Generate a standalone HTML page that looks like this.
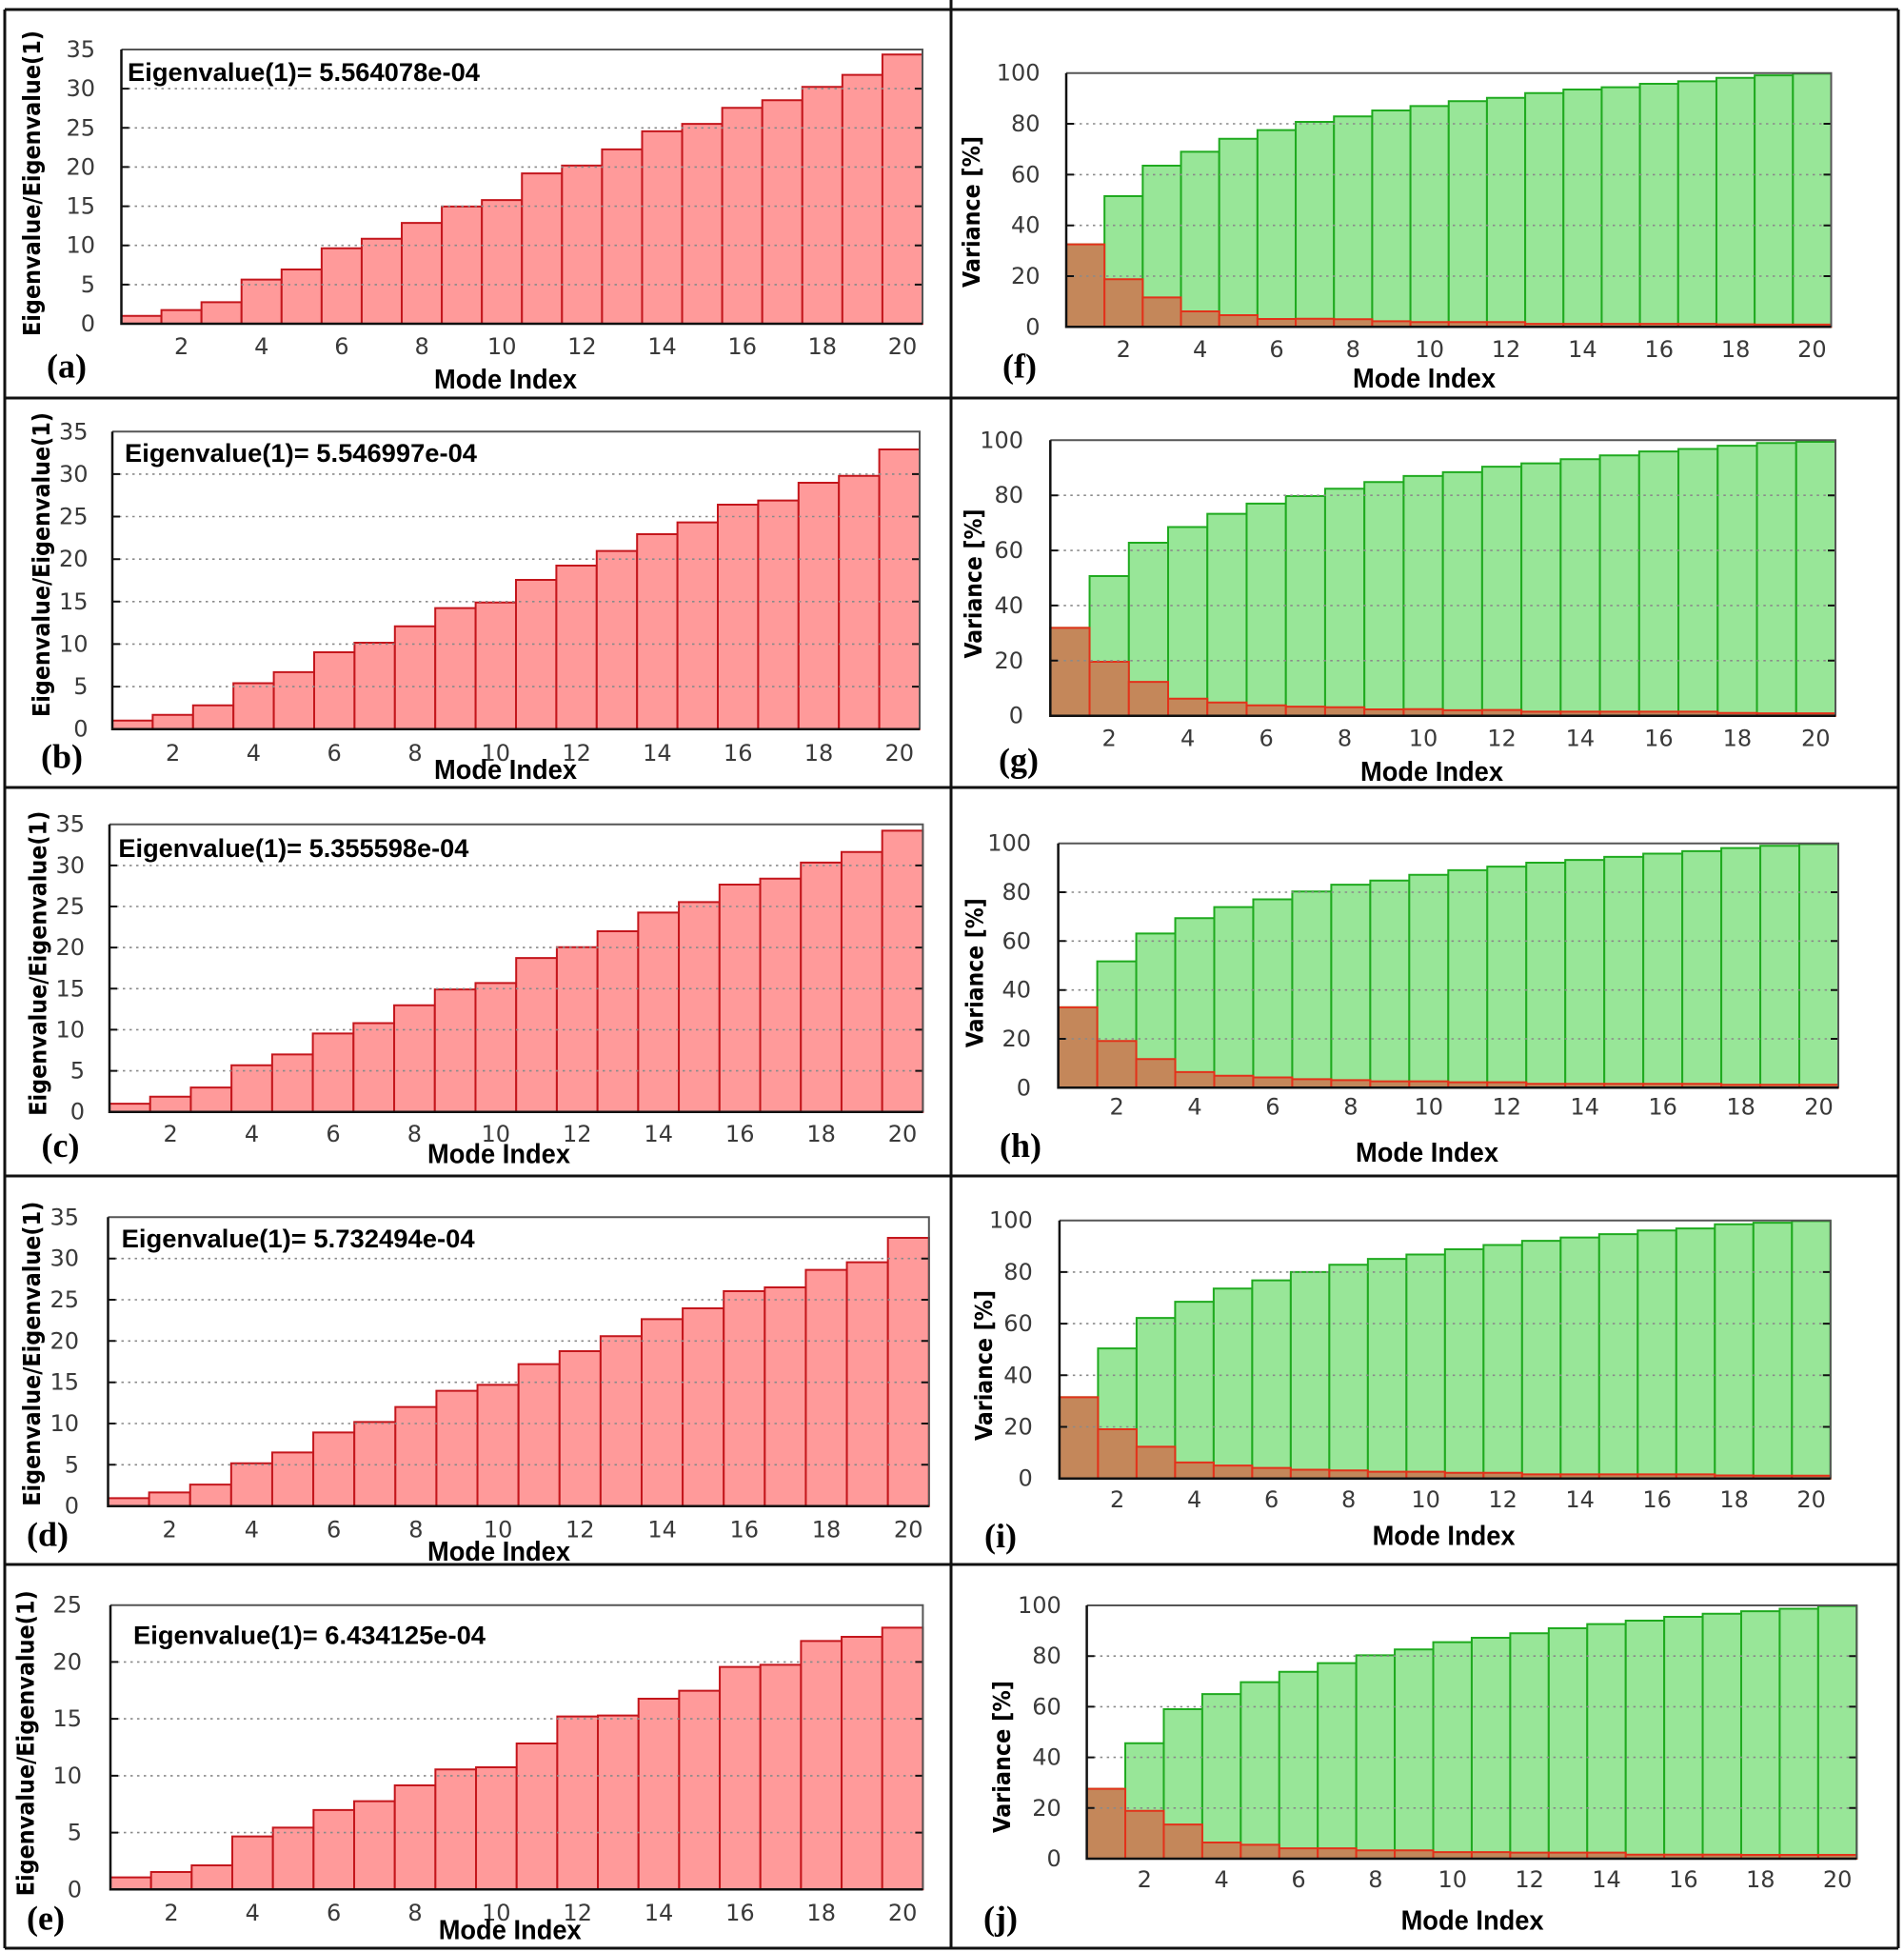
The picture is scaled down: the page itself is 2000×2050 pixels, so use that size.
<!DOCTYPE html>
<html><head><meta charset="utf-8">
<style>
html,body{margin:0;padding:0;background:#fff;}
svg{display:block;}
.rb rect{fill:#ff9a9a;stroke:#c4161c;stroke-width:2;vector-effect:non-scaling-stroke;}
.gb rect{fill:#98e698;stroke:#1faa1f;stroke-width:2;vector-effect:non-scaling-stroke;}
.bb rect{fill:#c4875a;stroke:#e2321a;stroke-width:2;vector-effect:non-scaling-stroke;}
.grid{stroke:#8a8a8a;stroke-width:1.6;stroke-dasharray:2.5 4.5;fill:none;}
.tm{stroke:#111;stroke-width:2;fill:none;}
.ft{stroke:#555;stroke-width:2;fill:none;}
.fb{stroke:#111;stroke-width:2.5;fill:none;}
.tk{font-family:"DejaVu Sans","Liberation Sans",sans-serif;font-size:24px;fill:#3a3a3a;}
.ml{font-family:"Liberation Sans",sans-serif;font-weight:bold;font-size:29px;fill:#000;}
.an{font-family:"Liberation Sans",sans-serif;font-weight:bold;font-size:27px;fill:#000;}
.yl{font-family:"DejaVu Sans","Liberation Sans",sans-serif;font-weight:bold;font-size:25px;fill:#000;}
.lt{font-family:"Liberation Serif",serif;font-weight:bold;font-size:36px;fill:#000;}
.fr{stroke:#111;stroke-width:3;fill:none;}
</style></head>
<body>
<svg width="2000" height="2050" viewBox="0 0 2000 2050" xmlns="http://www.w3.org/2000/svg">
<rect x="0" y="0" width="2000" height="2050" fill="#fff"/>

<!-- ================= (a) ================= -->
<g class="rb" transform="translate(127.5,340) scale(42.075,-8.2286)">
<rect x="0" y="0" width="1" height="1.0"/><rect x="1" y="0" width="1" height="1.74"/><rect x="2" y="0" width="1" height="2.75"/><rect x="3" y="0" width="1" height="5.63"/><rect x="4" y="0" width="1" height="6.92"/><rect x="5" y="0" width="1" height="9.63"/><rect x="6" y="0" width="1" height="10.85"/><rect x="7" y="0" width="1" height="12.87"/><rect x="8" y="0" width="1" height="14.97"/><rect x="9" y="0" width="1" height="15.78"/><rect x="10" y="0" width="1" height="19.18"/><rect x="11" y="0" width="1" height="20.19"/><rect x="12" y="0" width="1" height="22.26"/><rect x="13" y="0" width="1" height="24.56"/><rect x="14" y="0" width="1" height="25.5"/><rect x="15" y="0" width="1" height="27.56"/><rect x="16" y="0" width="1" height="28.53"/><rect x="17" y="0" width="1" height="30.23"/><rect x="18" y="0" width="1" height="31.77"/><rect x="19" y="0" width="1" height="34.36"/>
</g>
<path class="grid" d="M127.5 298.9H969M127.5 257.7H969M127.5 216.6H969M127.5 175.4H969M127.5 134.3H969M127.5 93.1H969"/>
<path class="tm" d="M127.5 298.9h8M127.5 257.7h8M127.5 216.6h8M127.5 175.4h8M127.5 134.3h8M127.5 93.1h8M969 298.9h-8M969 257.7h-8M969 216.6h-8M969 175.4h-8M969 134.3h-8M969 93.1h-8"/>
<path class="ft" d="M127.5 52H969V340"/>
<path class="fb" d="M127.5 52V340H969"/>
<g class="tk" text-anchor="end">
<text x="100" y="348">0</text><text x="100" y="306.9">5</text><text x="100" y="265.7">10</text><text x="100" y="224.6">15</text><text x="100" y="183.4">20</text><text x="100" y="142.3">25</text><text x="100" y="101.1">30</text><text x="100" y="60">35</text>
</g>
<g class="tk" text-anchor="middle">
<text x="190.6" y="372">2</text><text x="274.8" y="372">4</text><text x="358.9" y="372">6</text><text x="443.1" y="372">8</text><text x="527.2" y="372">10</text><text x="611.4" y="372">12</text><text x="695.5" y="372">14</text><text x="779.7" y="372">16</text><text x="863.8" y="372">18</text><text x="948" y="372">20</text>
</g>
<text class="ml" x="531" y="408" text-anchor="middle" textLength="150" lengthAdjust="spacingAndGlyphs">Mode Index</text>
<text class="lt" x="70" y="396.5" text-anchor="middle">(a)</text>
<text class="an" x="134" y="85" textLength="370" lengthAdjust="spacingAndGlyphs">Eigenvalue(1)= 5.564078e-04</text>
<text class="yl" transform="translate(42,192.5) rotate(-90)" text-anchor="middle" textLength="321" lengthAdjust="spacingAndGlyphs">Eigenvalue/Eigenvalue(1)</text>

<!-- ================= (b) ================= -->
<g class="rb" transform="translate(118,765.7) scale(42.4,-8.9257)">
<rect x="0" y="0" width="1" height="1.0"/><rect x="1" y="0" width="1" height="1.68"/><rect x="2" y="0" width="1" height="2.8"/><rect x="3" y="0" width="1" height="5.4"/><rect x="4" y="0" width="1" height="6.7"/><rect x="5" y="0" width="1" height="9.04"/><rect x="6" y="0" width="1" height="10.16"/><rect x="7" y="0" width="1" height="12.1"/><rect x="8" y="0" width="1" height="14.23"/><rect x="9" y="0" width="1" height="14.9"/><rect x="10" y="0" width="1" height="17.56"/><rect x="11" y="0" width="1" height="19.24"/><rect x="12" y="0" width="1" height="20.96"/><rect x="13" y="0" width="1" height="22.94"/><rect x="14" y="0" width="1" height="24.32"/><rect x="15" y="0" width="1" height="26.41"/><rect x="16" y="0" width="1" height="26.9"/><rect x="17" y="0" width="1" height="28.99"/><rect x="18" y="0" width="1" height="29.8"/><rect x="19" y="0" width="1" height="32.9"/>
</g>
<path class="grid" d="M118 721.1H966M118 676.4H966M118 631.8H966M118 587.2H966M118 542.5H966M118 497.9H966"/>
<path class="tm" d="M118 721.1h8M118 676.4h8M118 631.8h8M118 587.2h8M118 542.5h8M118 497.9h8M966 721.1h-8M966 676.4h-8M966 631.8h-8M966 587.2h-8M966 542.5h-8M966 497.9h-8"/>
<path class="ft" d="M118 453.3H966V765.7"/>
<path class="fb" d="M118 453.3V765.7H966"/>
<g class="tk" text-anchor="end">
<text x="92.5" y="773.7">0</text><text x="92.5" y="729.1">5</text><text x="92.5" y="684.4">10</text><text x="92.5" y="639.8">15</text><text x="92.5" y="595.2">20</text><text x="92.5" y="550.5">25</text><text x="92.5" y="505.9">30</text><text x="92.5" y="461.3">35</text>
</g>
<g class="tk" text-anchor="middle">
<text x="181.6" y="799">2</text><text x="266.4" y="799">4</text><text x="351.2" y="799">6</text><text x="436" y="799">8</text><text x="520.8" y="799">10</text><text x="605.6" y="799">12</text><text x="690.4" y="799">14</text><text x="775.2" y="799">16</text><text x="860" y="799">18</text><text x="944.8" y="799">20</text>
</g>
<text class="ml" x="531" y="818" text-anchor="middle" textLength="150" lengthAdjust="spacingAndGlyphs">Mode Index</text>
<text class="lt" x="65" y="806.5" text-anchor="middle">(b)</text>
<text class="an" x="131" y="485" textLength="370" lengthAdjust="spacingAndGlyphs">Eigenvalue(1)= 5.546997e-04</text>
<text class="yl" transform="translate(52,593) rotate(-90)" text-anchor="middle" textLength="320" lengthAdjust="spacingAndGlyphs">Eigenvalue/Eigenvalue(1)</text>

<!-- ================= (c) ================= -->
<g class="rb" transform="translate(115,1167.7) scale(42.72,-8.6286)">
<rect x="0" y="0" width="1" height="1.0"/><rect x="1" y="0" width="1" height="1.85"/><rect x="2" y="0" width="1" height="2.97"/><rect x="3" y="0" width="1" height="5.68"/><rect x="4" y="0" width="1" height="6.99"/><rect x="5" y="0" width="1" height="9.54"/><rect x="6" y="0" width="1" height="10.8"/><rect x="7" y="0" width="1" height="12.98"/><rect x="8" y="0" width="1" height="14.9"/><rect x="9" y="0" width="1" height="15.68"/><rect x="10" y="0" width="1" height="18.73"/><rect x="11" y="0" width="1" height="20.05"/><rect x="12" y="0" width="1" height="21.98"/><rect x="13" y="0" width="1" height="24.26"/><rect x="14" y="0" width="1" height="25.53"/><rect x="15" y="0" width="1" height="27.66"/><rect x="16" y="0" width="1" height="28.39"/><rect x="17" y="0" width="1" height="30.35"/><rect x="18" y="0" width="1" height="31.63"/><rect x="19" y="0" width="1" height="34.22"/>
</g>
<path class="grid" d="M115 1124.6H969.4M115 1081.4H969.4M115 1038.3H969.4M115 995.1H969.4M115 952H969.4M115 908.9H969.4"/>
<path class="tm" d="M115 1124.6h8M115 1081.4h8M115 1038.3h8M115 995.1h8M115 952h8M115 908.9h8M969.4 1124.6h-8M969.4 1081.4h-8M969.4 1038.3h-8M969.4 995.1h-8M969.4 952h-8M969.4 908.9h-8"/>
<path class="ft" d="M115 865.7H969.4V1167.7"/>
<path class="fb" d="M115 865.7V1167.7H969.4"/>
<g class="tk" text-anchor="end">
<text x="89" y="1175.7">0</text><text x="89" y="1132.6">5</text><text x="89" y="1089.4">10</text><text x="89" y="1046.3">15</text><text x="89" y="1003.1">20</text><text x="89" y="960">25</text><text x="89" y="916.9">30</text><text x="89" y="873.7">35</text>
</g>
<g class="tk" text-anchor="middle">
<text x="179.1" y="1199">2</text><text x="264.5" y="1199">4</text><text x="350" y="1199">6</text><text x="435.4" y="1199">8</text><text x="520.8" y="1199">10</text><text x="606.3" y="1199">12</text><text x="691.7" y="1199">14</text><text x="777.2" y="1199">16</text><text x="862.6" y="1199">18</text><text x="948" y="1199">20</text>
</g>
<text class="ml" x="524" y="1221.7" text-anchor="middle" textLength="150" lengthAdjust="spacingAndGlyphs">Mode Index</text>
<text class="lt" x="63.5" y="1215.2" text-anchor="middle">(c)</text>
<text class="an" x="124.4" y="900" textLength="368" lengthAdjust="spacingAndGlyphs">Eigenvalue(1)= 5.355598e-04</text>
<text class="yl" transform="translate(48.5,1011.7) rotate(-90)" text-anchor="middle" textLength="320" lengthAdjust="spacingAndGlyphs">Eigenvalue/Eigenvalue(1)</text>

<!-- ================= (d) ================= -->
<g class="rb" transform="translate(113.5,1581.7) scale(43.115,-8.6686)">
<rect x="0" y="0" width="1" height="0.96"/><rect x="1" y="0" width="1" height="1.65"/><rect x="2" y="0" width="1" height="2.6"/><rect x="3" y="0" width="1" height="5.19"/><rect x="4" y="0" width="1" height="6.5"/><rect x="5" y="0" width="1" height="8.92"/><rect x="6" y="0" width="1" height="10.19"/><rect x="7" y="0" width="1" height="12.0"/><rect x="8" y="0" width="1" height="13.96"/><rect x="9" y="0" width="1" height="14.69"/><rect x="10" y="0" width="1" height="17.19"/><rect x="11" y="0" width="1" height="18.77"/><rect x="12" y="0" width="1" height="20.58"/><rect x="13" y="0" width="1" height="22.65"/><rect x="14" y="0" width="1" height="23.96"/><rect x="15" y="0" width="1" height="26.04"/><rect x="16" y="0" width="1" height="26.5"/><rect x="17" y="0" width="1" height="28.62"/><rect x="18" y="0" width="1" height="29.54"/><rect x="19" y="0" width="1" height="32.5"/>
</g>
<path class="grid" d="M113.5 1538.3H975.8M113.5 1495H975.8M113.5 1451.7H975.8M113.5 1408.3H975.8M113.5 1365H975.8M113.5 1321.7H975.8"/>
<path class="tm" d="M113.5 1538.3h8M113.5 1495h8M113.5 1451.7h8M113.5 1408.3h8M113.5 1365h8M113.5 1321.7h8M975.8 1538.3h-8M975.8 1495h-8M975.8 1451.7h-8M975.8 1408.3h-8M975.8 1365h-8M975.8 1321.7h-8"/>
<path class="ft" d="M113.5 1278.3H975.8V1581.7"/>
<path class="fb" d="M113.5 1278.3V1581.7H975.8"/>
<g class="tk" text-anchor="end">
<text x="83" y="1589.7">0</text><text x="83" y="1546.3">5</text><text x="83" y="1503">10</text><text x="83" y="1459.7">15</text><text x="83" y="1416.3">20</text><text x="83" y="1373">25</text><text x="83" y="1329.7">30</text><text x="83" y="1286.3">35</text>
</g>
<g class="tk" text-anchor="middle">
<text x="178.2" y="1614.7">2</text><text x="264.4" y="1614.7">4</text><text x="350.6" y="1614.7">6</text><text x="436.9" y="1614.7">8</text><text x="523.1" y="1614.7">10</text><text x="609.3" y="1614.7">12</text><text x="695.6" y="1614.7">14</text><text x="781.8" y="1614.7">16</text><text x="868" y="1614.7">18</text><text x="954.2" y="1614.7">20</text>
</g>
<text class="ml" x="524" y="1639" text-anchor="middle" textLength="150" lengthAdjust="spacingAndGlyphs">Mode Index</text>
<text class="lt" x="50" y="1623.5" text-anchor="middle">(d)</text>
<text class="an" x="127.6" y="1310" textLength="371" lengthAdjust="spacingAndGlyphs">Eigenvalue(1)= 5.732494e-04</text>
<text class="yl" transform="translate(42,1421.7) rotate(-90)" text-anchor="middle" textLength="320" lengthAdjust="spacingAndGlyphs">Eigenvalue/Eigenvalue(1)</text>

<!-- ================= (e) ================= -->
<g class="rb" transform="translate(116,1984.3) scale(42.67,-11.944)">
<rect x="0" y="0" width="1" height="1.06"/><rect x="1" y="0" width="1" height="1.53"/><rect x="2" y="0" width="1" height="2.12"/><rect x="3" y="0" width="1" height="4.66"/><rect x="4" y="0" width="1" height="5.44"/><rect x="5" y="0" width="1" height="6.98"/><rect x="6" y="0" width="1" height="7.76"/><rect x="7" y="0" width="1" height="9.15"/><rect x="8" y="0" width="1" height="10.55"/><rect x="9" y="0" width="1" height="10.74"/><rect x="10" y="0" width="1" height="12.83"/><rect x="11" y="0" width="1" height="15.21"/><rect x="12" y="0" width="1" height="15.29"/><rect x="13" y="0" width="1" height="16.77"/><rect x="14" y="0" width="1" height="17.47"/><rect x="15" y="0" width="1" height="19.56"/><rect x="16" y="0" width="1" height="19.75"/><rect x="17" y="0" width="1" height="21.85"/><rect x="18" y="0" width="1" height="22.21"/><rect x="19" y="0" width="1" height="23.02"/>
</g>
<path class="grid" d="M116 1924.6H969.4M116 1864.9H969.4M116 1805.1H969.4M116 1745.4H969.4"/>
<path class="tm" d="M116 1924.6h8M116 1864.9h8M116 1805.1h8M116 1745.4h8M969.4 1924.6h-8M969.4 1864.9h-8M969.4 1805.1h-8M969.4 1745.4h-8"/>
<path class="ft" d="M116 1685.7H969.4V1984.3"/>
<path class="fb" d="M116 1685.7V1984.3H969.4"/>
<g class="tk" text-anchor="end">
<text x="86" y="1992.3">0</text><text x="86" y="1932.6">5</text><text x="86" y="1872.9">10</text><text x="86" y="1813.1">15</text><text x="86" y="1753.4">20</text><text x="86" y="1693.7">25</text>
</g>
<g class="tk" text-anchor="middle">
<text x="180" y="2017">2</text><text x="265.3" y="2017">4</text><text x="350.7" y="2017">6</text><text x="436" y="2017">8</text><text x="521.3" y="2017">10</text><text x="606.7" y="2017">12</text><text x="692" y="2017">14</text><text x="777.4" y="2017">16</text><text x="862.7" y="2017">18</text><text x="948.1" y="2017">20</text>
</g>
<text class="ml" x="535.7" y="2036.7" text-anchor="middle" textLength="150" lengthAdjust="spacingAndGlyphs">Mode Index</text>
<text class="lt" x="48" y="2026.5" text-anchor="middle">(e)</text>
<text class="an" x="140" y="1726.7" textLength="370" lengthAdjust="spacingAndGlyphs">Eigenvalue(1)= 6.434125e-04</text>
<text class="yl" transform="translate(35.7,1830.8) rotate(-90)" text-anchor="middle" textLength="321" lengthAdjust="spacingAndGlyphs">Eigenvalue/Eigenvalue(1)</text>

<!-- ================= (f) ================= -->
<g transform="translate(1120,343.3) scale(40.175,-2.666)">
<g class="gb">
<rect x="0" y="0" width="1" height="32.5"/><rect x="1" y="0" width="1" height="51.5"/><rect x="2" y="0" width="1" height="63.5"/><rect x="3" y="0" width="1" height="69"/><rect x="4" y="0" width="1" height="74.1"/><rect x="5" y="0" width="1" height="77.5"/><rect x="6" y="0" width="1" height="80.75"/><rect x="7" y="0" width="1" height="82.9"/><rect x="8" y="0" width="1" height="85.25"/><rect x="9" y="0" width="1" height="87"/><rect x="10" y="0" width="1" height="88.9"/><rect x="11" y="0" width="1" height="90.25"/><rect x="12" y="0" width="1" height="92.1"/><rect x="13" y="0" width="1" height="93.5"/><rect x="14" y="0" width="1" height="94.4"/><rect x="15" y="0" width="1" height="95.75"/><rect x="16" y="0" width="1" height="96.75"/><rect x="17" y="0" width="1" height="98.1"/><rect x="18" y="0" width="1" height="99.1"/><rect x="19" y="0" width="1" height="99.75"/>
</g>
<g class="bb">
<rect x="0" y="0" width="1" height="32.5"/><rect x="1" y="0" width="1" height="18.75"/><rect x="2" y="0" width="1" height="11.6"/><rect x="3" y="0" width="1" height="6.1"/><rect x="4" y="0" width="1" height="4.6"/><rect x="5" y="0" width="1" height="3.1"/><rect x="6" y="0" width="1" height="3.2"/><rect x="7" y="0" width="1" height="3"/><rect x="8" y="0" width="1" height="2.2"/><rect x="9" y="0" width="1" height="1.9"/><rect x="10" y="0" width="1" height="1.9"/><rect x="11" y="0" width="1" height="1.9"/><rect x="12" y="0" width="1" height="1.2"/><rect x="13" y="0" width="1" height="1.2"/><rect x="14" y="0" width="1" height="1.2"/><rect x="15" y="0" width="1" height="1.2"/><rect x="16" y="0" width="1" height="1.2"/><rect x="17" y="0" width="1" height="1.0"/><rect x="18" y="0" width="1" height="0.9"/><rect x="19" y="0" width="1" height="0.9"/>
</g>
</g>
<path class="grid" d="M1120 290H1923.5M1120 236.7H1923.5M1120 183.4H1923.5M1120 130H1923.5"/>
<path class="tm" d="M1120 290h8M1120 236.7h8M1120 183.4h8M1120 130h8M1923.5 290h-8M1923.5 236.7h-8M1923.5 183.4h-8M1923.5 130h-8"/>
<path class="ft" d="M1120 76.7H1923.5V343.3"/>
<path class="fb" d="M1120 76.7V343.3H1923.5"/>
<g class="tk" text-anchor="end">
<text x="1092.5" y="351.3">0</text><text x="1092.5" y="298">20</text><text x="1092.5" y="244.7">40</text><text x="1092.5" y="191.4">60</text><text x="1092.5" y="138">80</text><text x="1092.5" y="84.7">100</text>
</g>
<g class="tk" text-anchor="middle">
<text x="1180.3" y="375">2</text><text x="1260.6" y="375">4</text><text x="1341" y="375">6</text><text x="1421.3" y="375">8</text><text x="1501.7" y="375">10</text><text x="1582" y="375">12</text><text x="1662.4" y="375">14</text><text x="1742.7" y="375">16</text><text x="1823.1" y="375">18</text><text x="1903.4" y="375">20</text>
</g>
<text class="ml" x="1496" y="407" text-anchor="middle" textLength="150" lengthAdjust="spacingAndGlyphs">Mode Index</text>
<text class="lt" x="1071" y="396.5" text-anchor="middle">(f)</text>
<text class="yl" transform="translate(1029,222.5) rotate(-90)" text-anchor="middle" textLength="159" lengthAdjust="spacingAndGlyphs">Variance [%]</text>

<!-- ================= (g) ================= -->
<g transform="translate(1103.3,751.7) scale(41.235,-2.894)">
<g class="gb">
<rect x="0" y="0" width="1" height="31.9"/><rect x="1" y="0" width="1" height="50.7"/><rect x="2" y="0" width="1" height="62.8"/><rect x="3" y="0" width="1" height="68.5"/><rect x="4" y="0" width="1" height="73.3"/><rect x="5" y="0" width="1" height="77"/><rect x="6" y="0" width="1" height="79.7"/><rect x="7" y="0" width="1" height="82.4"/><rect x="8" y="0" width="1" height="84.8"/><rect x="9" y="0" width="1" height="87"/><rect x="10" y="0" width="1" height="88.4"/><rect x="11" y="0" width="1" height="90.4"/><rect x="12" y="0" width="1" height="91.6"/><rect x="13" y="0" width="1" height="93.1"/><rect x="14" y="0" width="1" height="94.5"/><rect x="15" y="0" width="1" height="95.9"/><rect x="16" y="0" width="1" height="96.8"/><rect x="17" y="0" width="1" height="98"/><rect x="18" y="0" width="1" height="99"/><rect x="19" y="0" width="1" height="99.4"/>
</g>
<g class="bb">
<rect x="0" y="0" width="1" height="31.9"/><rect x="1" y="0" width="1" height="19.6"/><rect x="2" y="0" width="1" height="12.3"/><rect x="3" y="0" width="1" height="6.2"/><rect x="4" y="0" width="1" height="4.8"/><rect x="5" y="0" width="1" height="3.8"/><rect x="6" y="0" width="1" height="3.3"/><rect x="7" y="0" width="1" height="3.1"/><rect x="8" y="0" width="1" height="2.3"/><rect x="9" y="0" width="1" height="2.4"/><rect x="10" y="0" width="1" height="2"/><rect x="11" y="0" width="1" height="2.1"/><rect x="12" y="0" width="1" height="1.5"/><rect x="13" y="0" width="1" height="1.5"/><rect x="14" y="0" width="1" height="1.5"/><rect x="15" y="0" width="1" height="1.5"/><rect x="16" y="0" width="1" height="1.5"/><rect x="17" y="0" width="1" height="1"/><rect x="18" y="0" width="1" height="0.9"/><rect x="19" y="0" width="1" height="0.9"/>
</g>
</g>
<path class="grid" d="M1103.3 693.8H1928M1103.3 635.9H1928M1103.3 578.1H1928M1103.3 520.2H1928"/>
<path class="tm" d="M1103.3 693.8h8M1103.3 635.9h8M1103.3 578.1h8M1103.3 520.2h8M1928 693.8h-8M1928 635.9h-8M1928 578.1h-8M1928 520.2h-8"/>
<path class="ft" d="M1103.3 462.3H1928V751.7"/>
<path class="fb" d="M1103.3 462.3V751.7H1928"/>
<g class="tk" text-anchor="end">
<text x="1075" y="759.7">0</text><text x="1075" y="701.8">20</text><text x="1075" y="643.9">40</text><text x="1075" y="586.1">60</text><text x="1075" y="528.2">80</text><text x="1075" y="470.3">100</text>
</g>
<g class="tk" text-anchor="middle">
<text x="1165.2" y="783.7">2</text><text x="1247.6" y="783.7">4</text><text x="1330.1" y="783.7">6</text><text x="1412.5" y="783.7">8</text><text x="1495" y="783.7">10</text><text x="1577.5" y="783.7">12</text><text x="1659.9" y="783.7">14</text><text x="1742.4" y="783.7">16</text><text x="1824.9" y="783.7">18</text><text x="1907.3" y="783.7">20</text>
</g>
<text class="ml" x="1504" y="820" text-anchor="middle" textLength="150" lengthAdjust="spacingAndGlyphs">Mode Index</text>
<text class="lt" x="1070" y="810.5" text-anchor="middle">(g)</text>
<text class="yl" transform="translate(1031,613) rotate(-90)" text-anchor="middle" textLength="157" lengthAdjust="spacingAndGlyphs">Variance [%]</text>

<!-- ================= (h) ================= -->
<g transform="translate(1111.6,1142.3) scale(40.97,-2.566)">
<g class="gb">
<rect x="0" y="0" width="1" height="32.9"/><rect x="1" y="0" width="1" height="51.7"/><rect x="2" y="0" width="1" height="63.1"/><rect x="3" y="0" width="1" height="69.4"/><rect x="4" y="0" width="1" height="73.9"/><rect x="5" y="0" width="1" height="77.1"/><rect x="6" y="0" width="1" height="80.3"/><rect x="7" y="0" width="1" height="83.1"/><rect x="8" y="0" width="1" height="84.8"/><rect x="9" y="0" width="1" height="87.1"/><rect x="10" y="0" width="1" height="89"/><rect x="11" y="0" width="1" height="90.5"/><rect x="12" y="0" width="1" height="92.1"/><rect x="13" y="0" width="1" height="93.2"/><rect x="14" y="0" width="1" height="94.5"/><rect x="15" y="0" width="1" height="95.8"/><rect x="16" y="0" width="1" height="96.8"/><rect x="17" y="0" width="1" height="98.1"/><rect x="18" y="0" width="1" height="99"/><rect x="19" y="0" width="1" height="99.7"/>
</g>
<g class="bb">
<rect x="0" y="0" width="1" height="32.9"/><rect x="1" y="0" width="1" height="19.1"/><rect x="2" y="0" width="1" height="11.7"/><rect x="3" y="0" width="1" height="6.4"/><rect x="4" y="0" width="1" height="4.9"/><rect x="5" y="0" width="1" height="4.2"/><rect x="6" y="0" width="1" height="3.5"/><rect x="7" y="0" width="1" height="3.1"/><rect x="8" y="0" width="1" height="2.6"/><rect x="9" y="0" width="1" height="2.6"/><rect x="10" y="0" width="1" height="2.2"/><rect x="11" y="0" width="1" height="2.2"/><rect x="12" y="0" width="1" height="1.6"/><rect x="13" y="0" width="1" height="1.6"/><rect x="14" y="0" width="1" height="1.6"/><rect x="15" y="0" width="1" height="1.6"/><rect x="16" y="0" width="1" height="1.6"/><rect x="17" y="0" width="1" height="1.2"/><rect x="18" y="0" width="1" height="1.2"/><rect x="19" y="0" width="1" height="1.2"/>
</g>
</g>
<path class="grid" d="M1111.6 1091H1931M1111.6 1039.7H1931M1111.6 988.3H1931M1111.6 937H1931"/>
<path class="tm" d="M1111.6 1091h8M1111.6 1039.7h8M1111.6 988.3h8M1111.6 937h8M1931 1091h-8M1931 1039.7h-8M1931 988.3h-8M1931 937h-8"/>
<path class="ft" d="M1111.6 885.7H1931V1142.3"/>
<path class="fb" d="M1111.6 885.7V1142.3H1931"/>
<g class="tk" text-anchor="end">
<text x="1083" y="1150.3">0</text><text x="1083" y="1099">20</text><text x="1083" y="1047.7">40</text><text x="1083" y="996.3">60</text><text x="1083" y="945">80</text><text x="1083" y="893.7">100</text>
</g>
<g class="tk" text-anchor="middle">
<text x="1173.1" y="1170.7">2</text><text x="1255" y="1170.7">4</text><text x="1336.9" y="1170.7">6</text><text x="1418.9" y="1170.7">8</text><text x="1500.8" y="1170.7">10</text><text x="1582.8" y="1170.7">12</text><text x="1664.7" y="1170.7">14</text><text x="1746.6" y="1170.7">16</text><text x="1828.6" y="1170.7">18</text><text x="1910.5" y="1170.7">20</text>
</g>
<text class="ml" x="1499" y="1220" text-anchor="middle" textLength="150" lengthAdjust="spacingAndGlyphs">Mode Index</text>
<text class="lt" x="1072" y="1215.2" text-anchor="middle">(h)</text>
<text class="yl" transform="translate(1032.5,1021.7) rotate(-90)" text-anchor="middle" textLength="157" lengthAdjust="spacingAndGlyphs">Variance [%]</text>

<!-- ================= (i) ================= -->
<g transform="translate(1112.9,1552.7) scale(40.495,-2.71)">
<g class="gb">
<rect x="0" y="0" width="1" height="31.5"/><rect x="1" y="0" width="1" height="50.4"/><rect x="2" y="0" width="1" height="62.2"/><rect x="3" y="0" width="1" height="68.5"/><rect x="4" y="0" width="1" height="73.6"/><rect x="5" y="0" width="1" height="76.8"/><rect x="6" y="0" width="1" height="80"/><rect x="7" y="0" width="1" height="82.8"/><rect x="8" y="0" width="1" height="85.1"/><rect x="9" y="0" width="1" height="86.8"/><rect x="10" y="0" width="1" height="88.8"/><rect x="11" y="0" width="1" height="90.5"/><rect x="12" y="0" width="1" height="92.1"/><rect x="13" y="0" width="1" height="93.4"/><rect x="14" y="0" width="1" height="94.7"/><rect x="15" y="0" width="1" height="96.1"/><rect x="16" y="0" width="1" height="96.9"/><rect x="17" y="0" width="1" height="98.5"/><rect x="18" y="0" width="1" height="99.1"/><rect x="19" y="0" width="1" height="99.75"/>
</g>
<g class="bb">
<rect x="0" y="0" width="1" height="31.5"/><rect x="1" y="0" width="1" height="19.1"/><rect x="2" y="0" width="1" height="12.3"/><rect x="3" y="0" width="1" height="6.2"/><rect x="4" y="0" width="1" height="5"/><rect x="5" y="0" width="1" height="4.1"/><rect x="6" y="0" width="1" height="3.4"/><rect x="7" y="0" width="1" height="3.1"/><rect x="8" y="0" width="1" height="2.6"/><rect x="9" y="0" width="1" height="2.6"/><rect x="10" y="0" width="1" height="2.2"/><rect x="11" y="0" width="1" height="2.2"/><rect x="12" y="0" width="1" height="1.6"/><rect x="13" y="0" width="1" height="1.6"/><rect x="14" y="0" width="1" height="1.6"/><rect x="15" y="0" width="1" height="1.6"/><rect x="16" y="0" width="1" height="1.6"/><rect x="17" y="0" width="1" height="1.2"/><rect x="18" y="0" width="1" height="1.1"/><rect x="19" y="0" width="1" height="1.1"/>
</g>
</g>
<path class="grid" d="M1112.9 1498.5H1922.8M1112.9 1444.3H1922.8M1112.9 1390.1H1922.8M1112.9 1335.9H1922.8"/>
<path class="tm" d="M1112.9 1498.5h8M1112.9 1444.3h8M1112.9 1390.1h8M1112.9 1335.9h8M1922.8 1498.5h-8M1922.8 1444.3h-8M1922.8 1390.1h-8M1922.8 1335.9h-8"/>
<path class="ft" d="M1112.9 1281.7H1922.8V1552.7"/>
<path class="fb" d="M1112.9 1281.7V1552.7H1922.8"/>
<g class="tk" text-anchor="end">
<text x="1084.8" y="1560.7">0</text><text x="1084.8" y="1506.5">20</text><text x="1084.8" y="1452.3">40</text><text x="1084.8" y="1398.1">60</text><text x="1084.8" y="1343.9">80</text><text x="1084.8" y="1289.7">100</text>
</g>
<g class="tk" text-anchor="middle">
<text x="1173.6" y="1583">2</text><text x="1254.6" y="1583">4</text><text x="1335.6" y="1583">6</text><text x="1416.6" y="1583">8</text><text x="1497.6" y="1583">10</text><text x="1578.6" y="1583">12</text><text x="1659.6" y="1583">14</text><text x="1740.6" y="1583">16</text><text x="1821.6" y="1583">18</text><text x="1902.6" y="1583">20</text>
</g>
<text class="ml" x="1516.6" y="1622.7" text-anchor="middle" textLength="150" lengthAdjust="spacingAndGlyphs">Mode Index</text>
<text class="lt" x="1051" y="1625.2" text-anchor="middle">(i)</text>
<text class="yl" transform="translate(1042,1434) rotate(-90)" text-anchor="middle" textLength="158" lengthAdjust="spacingAndGlyphs">Variance [%]</text>

<!-- ================= (j) ================= -->
<g transform="translate(1141.6,1952) scale(40.435,-2.66)">
<g class="gb">
<rect x="0" y="0" width="1" height="27.6"/><rect x="1" y="0" width="1" height="45.6"/><rect x="2" y="0" width="1" height="59"/><rect x="3" y="0" width="1" height="65"/><rect x="4" y="0" width="1" height="69.7"/><rect x="5" y="0" width="1" height="73.8"/><rect x="6" y="0" width="1" height="77.2"/><rect x="7" y="0" width="1" height="80.3"/><rect x="8" y="0" width="1" height="82.6"/><rect x="9" y="0" width="1" height="85.5"/><rect x="10" y="0" width="1" height="87.2"/><rect x="11" y="0" width="1" height="89"/><rect x="12" y="0" width="1" height="91"/><rect x="13" y="0" width="1" height="92.6"/><rect x="14" y="0" width="1" height="94"/><rect x="15" y="0" width="1" height="95.5"/><rect x="16" y="0" width="1" height="96.7"/><rect x="17" y="0" width="1" height="97.7"/><rect x="18" y="0" width="1" height="98.7"/><rect x="19" y="0" width="1" height="99.7"/>
</g>
<g class="bb">
<rect x="0" y="0" width="1" height="27.6"/><rect x="1" y="0" width="1" height="18.9"/><rect x="2" y="0" width="1" height="13.5"/><rect x="3" y="0" width="1" height="6.4"/><rect x="4" y="0" width="1" height="5.5"/><rect x="5" y="0" width="1" height="4.1"/><rect x="6" y="0" width="1" height="4.1"/><rect x="7" y="0" width="1" height="3.3"/><rect x="8" y="0" width="1" height="3.3"/><rect x="9" y="0" width="1" height="2.6"/><rect x="10" y="0" width="1" height="2.6"/><rect x="11" y="0" width="1" height="2.4"/><rect x="12" y="0" width="1" height="2.4"/><rect x="13" y="0" width="1" height="2.4"/><rect x="14" y="0" width="1" height="1.6"/><rect x="15" y="0" width="1" height="1.6"/><rect x="16" y="0" width="1" height="1.6"/><rect x="17" y="0" width="1" height="1.5"/><rect x="18" y="0" width="1" height="1.5"/><rect x="19" y="0" width="1" height="1.5"/>
</g>
</g>
<path class="grid" d="M1141.6 1898.8H1950.3M1141.6 1845.6H1950.3M1141.6 1792.4H1950.3M1141.6 1739.2H1950.3"/>
<path class="tm" d="M1141.6 1898.8h8M1141.6 1845.6h8M1141.6 1792.4h8M1141.6 1739.2h8M1950.3 1898.8h-8M1950.3 1845.6h-8M1950.3 1792.4h-8M1950.3 1739.2h-8"/>
<path class="ft" d="M1141.6 1686H1950.3V1952"/>
<path class="fb" d="M1141.6 1686V1952H1950.3"/>
<g class="tk" text-anchor="end">
<text x="1114.8" y="1960">0</text><text x="1114.8" y="1906.8">20</text><text x="1114.8" y="1853.6">40</text><text x="1114.8" y="1800.4">60</text><text x="1114.8" y="1747.2">80</text><text x="1114.8" y="1694">100</text>
</g>
<g class="tk" text-anchor="middle">
<text x="1202.3" y="1982">2</text><text x="1283.1" y="1982">4</text><text x="1364" y="1982">6</text><text x="1444.9" y="1982">8</text><text x="1525.8" y="1982">10</text><text x="1606.6" y="1982">12</text><text x="1687.5" y="1982">14</text><text x="1768.4" y="1982">16</text><text x="1849.3" y="1982">18</text><text x="1930.1" y="1982">20</text>
</g>
<text class="ml" x="1546.6" y="2026.7" text-anchor="middle" textLength="150" lengthAdjust="spacingAndGlyphs">Mode Index</text>
<text class="lt" x="1051" y="2026.5" text-anchor="middle">(j)</text>
<text class="yl" transform="translate(1061,1845) rotate(-90)" text-anchor="middle" textLength="160" lengthAdjust="spacingAndGlyphs">Variance [%]</text>

<!-- ================= outer frame ================= -->
<path class="fr" d="M5 10H1994M5 418H1994M5 827H1994M5 1235H1994M5 1643H1994M5 2046H1994M5 10V2046M999 0V2046M1994 10V2046"/>
</svg>
</body></html>
